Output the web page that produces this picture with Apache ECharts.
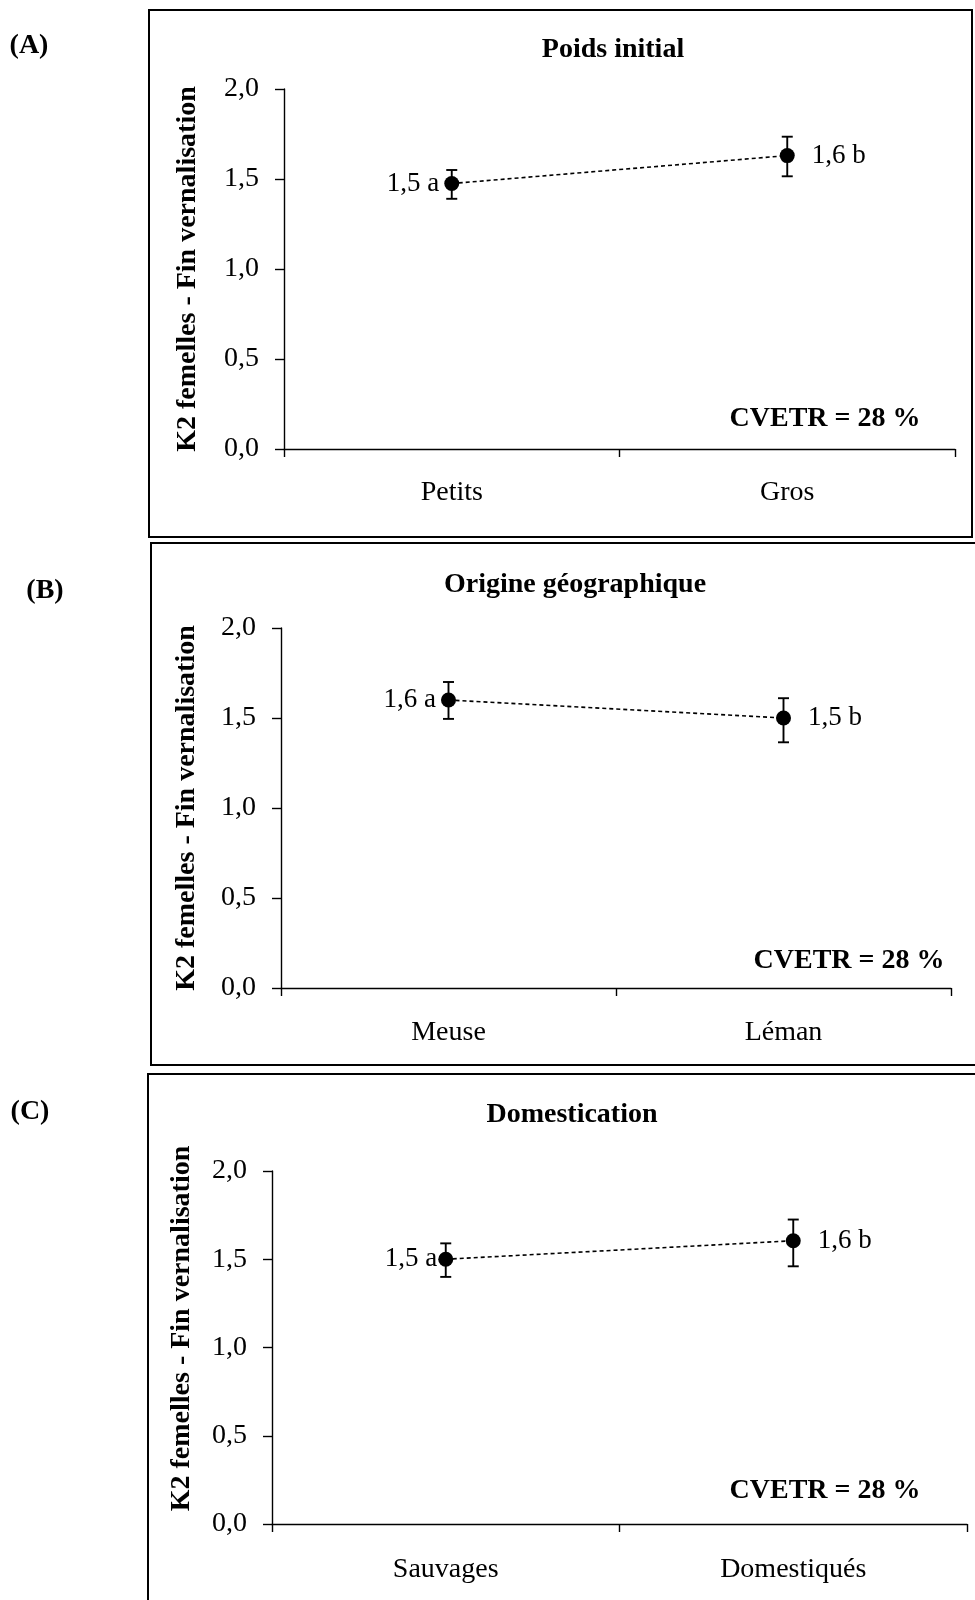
<!DOCTYPE html>
<html><head><meta charset="utf-8">
<script src="https://cdn.jsdelivr.net/npm/echarts@6/dist/echarts.min.js"></script>
<style>html,body{margin:0;padding:0;background:#fff}#c{width:975px;height:1600px}</style>
</head><body><div id="c"></div>
<script>
// ---------- data ----------
const panelLetters = ['(A)', '(B)', '(C)'];
const panelTitles = ['Poids initial', 'Origine géographique', 'Domestication'];
const yAxisName = 'K2 femelles - Fin vernalisation';
const cvetrText = 'CVETR = 28 %';
const yMin = 0, yMax = 2, yInterval = 0.5;

const categoriesA = ['Petits', 'Gros'];
const meansA = [1.475, 1.63];
const lowA = [1.39, 1.515];
const highA = [1.55, 1.735];
const pointLabelsA = ['1,5 a', '1,6 b'];

const categoriesB = ['Meuse', 'Léman'];
const meansB = [1.60, 1.50];
const lowB = [1.495, 1.365];
const highB = [1.70, 1.61];
const pointLabelsB = ['1,6 a', '1,5 b'];

const categoriesC = ['Sauvages', 'Domestiqués'];
const meansC = [1.50, 1.605];
const lowC = [1.40, 1.46];
const highC = [1.59, 1.725];
const pointLabelsC = ['1,5 a', '1,6 b'];

// ---------- layout ----------
const FONT = '"Liberation Serif", "Times New Roman", serif';
const panels = [
  {cats: categoriesA, means: meansA, low: lowA, high: highA, labels: pointLabelsA,
   grid: {left: 284, top: 89, width: 671, height: 360}, nameGap: 82, namePad: [0,0,0,0],
   box: [149, 10, 823, 527], letter: [29, 46], title: [613, 50], cvetr: [825, 419], xMargin: 30, leftDist: 5},
  {cats: categoriesB, means: meansB, low: lowB, high: highB, labels: pointLabelsB,
   grid: {left: 281, top: 628, width: 670, height: 360}, nameGap: 80, namePad: [0,0,0,0],
   box: [151, 543, 840, 522], letter: [45, 591], title: [575, 585], cvetr: [849, 961], xMargin: 31, leftDist: 5},
  {cats: categoriesC, means: meansC, low: lowC, high: highC, labels: pointLabelsC,
   grid: {left: 272, top: 1171, width: 695, height: 353}, nameGap: 76, namePad: [0,0,0,38],
   box: [148, 1074, 840, 540], letter: [30, 1112], title: [572, 1115], cvetr: [825, 1491], xMargin: 32, leftDist: 1}
];

const option = {
  backgroundColor: '#fff',
  animation: false,
  grid: [], xAxis: [], yAxis: [], series: [], graphic: []
};

panels.forEach((p, i) => {
  option.grid.push(Object.assign({containLabel: false}, p.grid));
  option.xAxis.push({
    type: 'category', gridIndex: i, data: p.cats, boundaryGap: true,
    axisLine: {lineStyle: {color: '#000', width: 1.4}},
    axisTick: {show: true, length: 8, inside: false, lineStyle: {color: '#000', width: 1.4}},
    axisLabel: {color: '#000', fontFamily: FONT, fontSize: 28, margin: p.xMargin},
    splitLine: {show: false}
  });
  option.yAxis.push({
    type: 'value', gridIndex: i, min: yMin, max: yMax, interval: yInterval,
    name: yAxisName, nameLocation: 'middle', nameGap: p.nameGap,
    nameTextStyle: {color: '#000', fontFamily: FONT, fontWeight: 'bold', fontSize: 28, padding: p.namePad},
    axisLine: {show: true, lineStyle: {color: '#000', width: 1.4}},
    axisTick: {show: true, length: 9, lineStyle: {color: '#000', width: 1.4}},
    axisLabel: {color: '#000', fontFamily: FONT, fontSize: 28, margin: 25,
      formatter: v => v.toFixed(1).replace('.', ',')},
    splitLine: {show: false}
  });
  // error bars
  option.series.push({
    type: 'custom', xAxisIndex: i, yAxisIndex: i, z: 2,
    data: p.cats.map((c, k) => [k, p.low[k], p.high[k]]),
    encode: {x: 0, y: [1, 2]},
    renderItem: (params, api) => {
      const x = api.value(0);
      const a = api.coord([x, api.value(1)]);
      const b = api.coord([x, api.value(2)]);
      const cap = 5.5;
      const st = {stroke: '#000', lineWidth: 1.9};
      return {type: 'group', children: [
        {type: 'line', shape: {x1: a[0], y1: a[1], x2: b[0], y2: b[1]}, style: st},
        {type: 'line', shape: {x1: a[0] - cap, y1: a[1], x2: a[0] + cap, y2: a[1]}, style: st},
        {type: 'line', shape: {x1: b[0] - cap, y1: b[1], x2: b[0] + cap, y2: b[1]}, style: st}
      ]};
    }
  });
  // means
  option.series.push({
    type: 'line', xAxisIndex: i, yAxisIndex: i, z: 3,
    symbol: 'circle', symbolSize: 15,
    itemStyle: {color: '#000'},
    lineStyle: {color: '#000', width: 1.6, type: [4, 3]},
    data: p.means.map((m, k) => ({
      value: m,
      label: {show: true, position: k === 0 ? 'left' : 'right', distance: k === 0 ? p.leftDist : 17,
        formatter: () => p.labels[k], color: '#000', fontFamily: FONT, fontSize: 27}
    }))
  });
  // panel frame, letter, title, CVETR
  option.graphic.push(
    {type: 'rect', shape: {x: p.box[0], y: p.box[1], width: p.box[2], height: p.box[3]},
     style: {fill: 'none', stroke: '#000', lineWidth: 2}, silent: true, z: 0},
    {type: 'text', x: p.letter[0], y: p.letter[1],
     style: {text: panelLetters[i], font: 'bold 28px ' + FONT, fill: '#000', align: 'center', verticalAlign: 'middle'}},
    {type: 'text', x: p.title[0], y: p.title[1],
     style: {text: panelTitles[i], font: 'bold 28px ' + FONT, fill: '#000', align: 'center', verticalAlign: 'middle'}},
    {type: 'text', x: p.cvetr[0], y: p.cvetr[1],
     style: {text: cvetrText, font: 'bold 28px ' + FONT, fill: '#000', align: 'center', verticalAlign: 'middle'}}
  );
});

const chart = echarts.init(document.getElementById('c'), null, {renderer: 'canvas'});
chart.setOption(option);
</script>
</body></html>
